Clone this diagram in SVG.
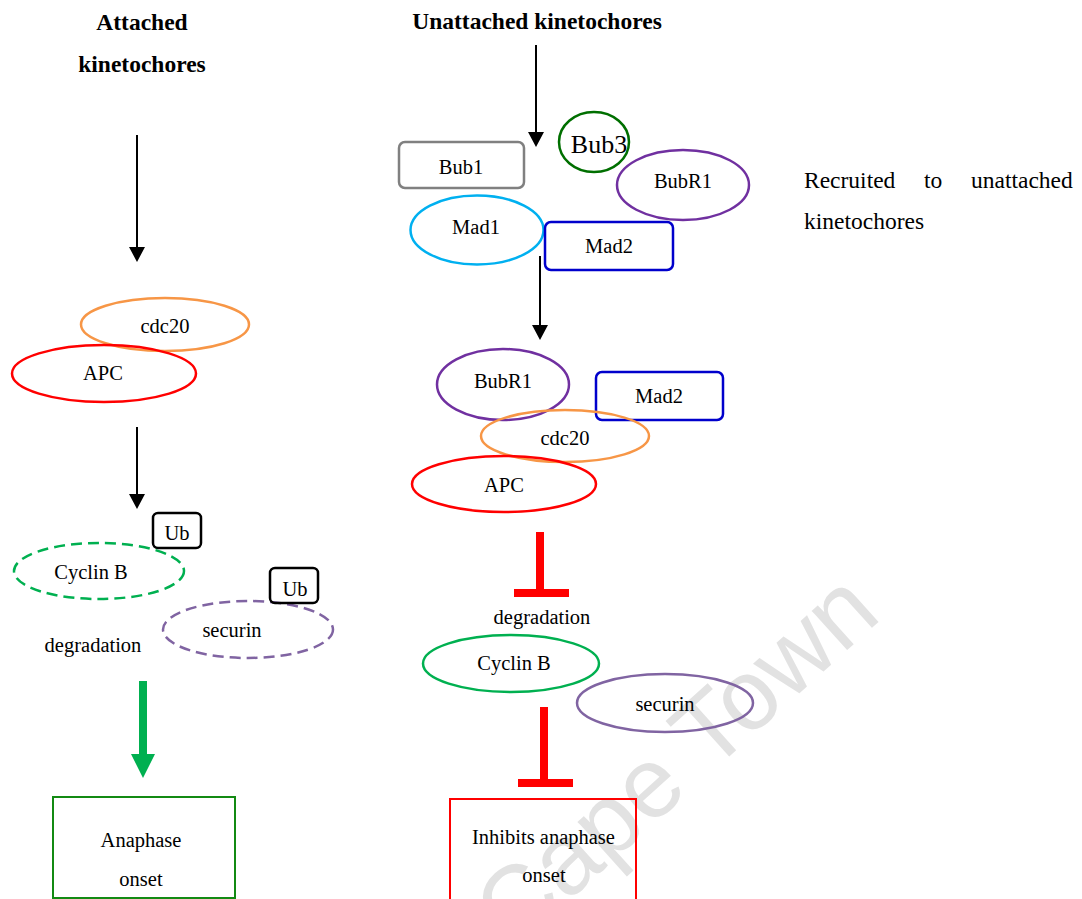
<svg xmlns="http://www.w3.org/2000/svg" width="1082" height="899" viewBox="0 0 1082 899">
<style>
text{font-family:"Liberation Serif","Times New Roman",serif;fill:#000}
.t{font-size:20.5px;text-anchor:middle}
.h{font-size:23.5px;font-weight:bold;text-anchor:middle}
.p{font-size:23.5px}
.shape{fill:none;stroke-width:2.5}
.dash{stroke-dasharray:11 6}
.arr{stroke:#000;stroke-width:2;fill:none}
.inh{stroke:#ff0000;stroke-width:8;fill:none}
.wm{font-family:"Liberation Sans",Arial,sans-serif;font-size:100px;fill:#e2e2e2}
</style>
<defs>
<marker id="ah" viewBox="0 0 15 16" refX="0" refY="8" markerWidth="15" markerHeight="16" markerUnits="userSpaceOnUse" orient="auto">
<path d="M0,0 L15,8 L0,16 Z" fill="#000"/>
</marker>
</defs>
<rect width="1082" height="899" fill="#fff"/>
<text class="wm" transform="translate(513,951) rotate(-42)">Cape Town</text>

<g id="titles">
<text class="h" x="142" y="30">Attached</text>
<text class="h" x="142" y="72">kinetochores</text>
<text class="h" x="537" y="29">Unattached kinetochores</text>
</g>
<g id="recruited-note">
<text class="p" y="188"><tspan x="804">Recruited</tspan><tspan x="924">to</tspan><tspan x="971">unattached</tspan></text>
<text class="p" x="804" y="229">kinetochores</text>
</g>

<g id="connectors">
<line class="arr" x1="137" y1="135" x2="137" y2="247" marker-end="url(#ah)"/>
<line class="arr" x1="137" y1="427" x2="137" y2="494" marker-end="url(#ah)"/>
<line class="arr" x1="536" y1="45" x2="536" y2="132" marker-end="url(#ah)"/>
<line class="arr" x1="540" y1="256" x2="540" y2="325" marker-end="url(#ah)"/>
<polygon points="139,681 147,681 147,754 155,754 143,778 131,754 139,754" fill="#00b050"/>
<line class="inh" x1="540" y1="532" x2="540" y2="589"/>
<line class="inh" x1="514" y1="593" x2="569" y2="593"/>
<line class="inh" x1="544" y1="707" x2="544" y2="779"/>
<line class="inh" x1="518" y1="783" x2="573" y2="783"/>
</g>

<g id="left-cdc20">
<ellipse class="shape" cx="165" cy="324.5" rx="84" ry="26.5" stroke="#f79646"/>
<text class="t" x="165" y="333">cdc20</text>
</g>
<g id="left-apc">
<ellipse class="shape" cx="104" cy="373.5" rx="92" ry="28.5" stroke="#ff0000"/>
<text class="t" x="103" y="380">APC</text>
</g>
<g id="left-cyclinb">
<ellipse class="shape dash" cx="99" cy="571" rx="85" ry="28" stroke="#00b050"/>
<text class="t" x="91" y="579">Cyclin B</text>
</g>
<g id="left-ub1">
<rect class="shape" x="153" y="513" width="48" height="35" rx="5" stroke="#000" stroke-width="2"/>
<text class="t" x="177" y="540">Ub</text>
</g>
<g id="left-securin">
<ellipse class="shape dash" cx="248" cy="629.5" rx="85" ry="28.5" stroke="#8064a2"/>
<text class="t" x="232" y="637">securin</text>
</g>
<g id="left-ub2">
<rect class="shape" x="270" y="568" width="48" height="35" rx="5" stroke="#000" stroke-width="2"/>
<text class="t" x="295" y="596">Ub</text>
</g>
<g id="left-degradation">
<text class="t" x="93" y="652">degradation</text>
</g>
<g id="anaphase-onset">
<rect x="53" y="797" width="182" height="101" fill="none" stroke="#138a13" stroke-width="2"/>
<text class="t" x="141" y="847">Anaphase</text>
<text class="t" x="141" y="886">onset</text>
</g>

<g id="bub1">
<rect class="shape" x="399" y="142" width="125" height="46" rx="6" stroke="#808080"/>
<text class="t" x="461" y="174">Bub1</text>
</g>
<g id="bub3">
<ellipse class="shape" cx="594" cy="142" rx="35" ry="30" stroke="#006f00"/>
<text class="t" x="599" y="153" style="font-size:26px">Bub3</text>
</g>
<g id="bubr1-top">
<ellipse class="shape" cx="683" cy="185" rx="66" ry="35" stroke="#7030a0"/>
<text class="t" x="683" y="188">BubR1</text>
</g>
<g id="mad1">
<ellipse class="shape" cx="477" cy="230" rx="66.5" ry="34.5" stroke="#00b0f0"/>
<text class="t" x="476" y="234">Mad1</text>
</g>
<g id="mad2-top">
<rect class="shape" x="545" y="222" width="128" height="48" rx="6" stroke="#0000cc"/>
<text class="t" x="609" y="253">Mad2</text>
</g>

<g id="bubr1-mcc">
<ellipse class="shape" cx="503" cy="384.5" rx="66" ry="35.5" stroke="#7030a0"/>
<text class="t" x="503" y="388">BubR1</text>
</g>
<g id="mad2-mcc">
<rect class="shape" x="596" y="372" width="127" height="48" rx="6" stroke="#0000cc"/>
<text class="t" x="659" y="403">Mad2</text>
</g>
<g id="cdc20-mcc">
<ellipse class="shape" cx="565" cy="436" rx="84" ry="26" stroke="#f79646"/>
<text class="t" x="565" y="445">cdc20</text>
</g>
<g id="apc-mcc">
<ellipse class="shape" cx="504" cy="484" rx="92" ry="28" stroke="#ff0000"/>
<text class="t" x="504" y="492">APC</text>
</g>
<g id="right-degradation">
<text class="t" x="542" y="624">degradation</text>
</g>
<g id="right-cyclinb">
<ellipse class="shape" cx="511" cy="663.5" rx="88" ry="28.5" stroke="#00b050"/>
<text class="t" x="514" y="670">Cyclin B</text>
</g>
<g id="right-securin">
<ellipse class="shape" cx="665" cy="703" rx="88" ry="29" stroke="#8064a2"/>
<text class="t" x="665" y="711">securin</text>
</g>
<g id="inhibits-anaphase">
<rect x="450" y="799" width="186" height="110" fill="none" stroke="#ff0000" stroke-width="2"/>
<text class="t" x="543.5" y="844">Inhibits anaphase</text>
<text class="t" x="544" y="882">onset</text>
</g>
</svg>
